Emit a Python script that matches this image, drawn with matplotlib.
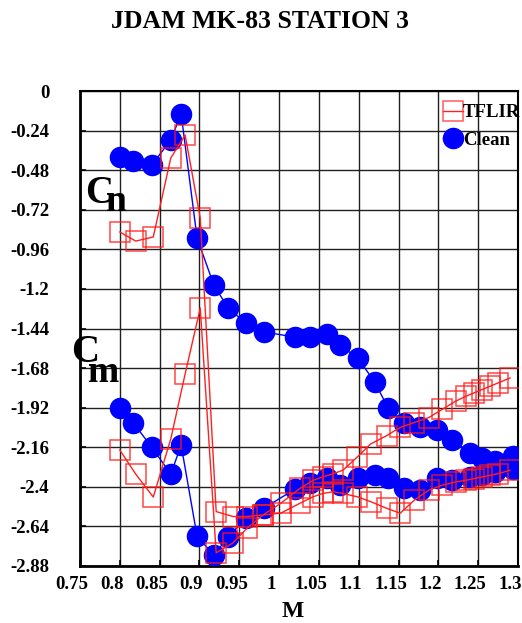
import matplotlib
matplotlib.use("Agg")
import matplotlib.pyplot as plt
from matplotlib.lines import Line2D
import matplotlib.transforms as mtransforms

plt.rcParams['font.family'] = ['Liberation Serif', 'DejaVu Serif']
plt.rcParams['font.weight'] = 'bold'

# ---- data ----
clean_mach = [0.800, 0.817, 0.840, 0.864, 0.877, 0.897, 0.918, 0.936, 0.958, 0.981,
              1.020, 1.039, 1.060, 1.076, 1.099, 1.120, 1.137, 1.157, 1.177, 1.198,
              1.217, 1.240, 1.255, 1.271, 1.294]
clean_cn = [-0.400, -0.424, -0.449, -0.297, -0.139, -0.891, -1.176, -1.316, -1.407, -1.461,
            -1.492, -1.492, -1.474, -1.540, -1.619, -1.765, -1.922, -2.013, -2.038, -2.056,
            -2.116, -2.195, -2.226, -2.244, -2.213]
clean_cm = [-1.922, -2.013, -2.159, -2.323, -2.147, -2.699, -2.814, -2.705, -2.589, -2.529,
            -2.414, -2.377, -2.347, -2.389, -2.347, -2.329, -2.347, -2.407, -2.420, -2.347,
            -2.360, -2.340, -2.330, -2.310, -2.290]

tflir_mach = [0.800, 0.820, 0.842, 0.864, 0.882, 0.901, 0.921, 0.942, 0.960, 0.980,
              1.002, 1.026, 1.043, 1.055, 1.068, 1.080, 1.098, 1.115, 1.135, 1.152,
              1.170, 1.188, 1.205, 1.222, 1.235, 1.245, 1.255, 1.265, 1.275, 1.290]
tflir_cn = [-0.855, -0.910, -0.885, -0.406, -0.267, -0.770, -2.55, -2.58, -2.58, -2.57,
            -2.56, -2.50, -2.46, -2.44, -2.43, -2.44, -2.46, -2.49, -2.53, -2.56,
            -2.48, -2.42, -2.39, -2.37, -2.36, -2.35, -2.34, -2.33, -2.32, -2.30]
tflir_cm = [-2.177, -2.323, -2.462, -2.110, -1.716, -1.316, -2.80, -2.74, -2.65, -2.57,
            -2.50, -2.41, -2.36, -2.34, -2.32, -2.30, -2.22, -2.14, -2.09, -2.04,
            -2.01, -1.98, -1.93, -1.88, -1.85, -1.83, -1.81, -1.79, -1.77, -1.74]

x_ticks = [0.75, 0.8, 0.85, 0.9, 0.95, 1.0, 1.05, 1.1, 1.15, 1.2, 1.25, 1.3]
x_labels = ['0.75', '0.8', '0.85', '0.9', '0.95', '1', '1.05', '1.1', '1.15', '1.2', '1.25', '1.3']
y_ticks = [0, -0.24, -0.48, -0.72, -0.96, -1.2, -1.44, -1.68, -1.92, -2.16, -2.4, -2.64, -2.88]
y_labels = ['0', '-0.24', '-0.48', '-0.72', '-0.96', '-1.2', '-1.44', '-1.68', '-1.92',
            '-2.16', '-2.4', '-2.64', '-2.88']

W, H = 522, 623
fig = plt.figure(figsize=(W / 100, H / 100), dpi=100)
ax = fig.add_axes([80 / W, 1 - 566 / H, 438 / W, 475 / H])

blue = '#0000ff'
red = '#ff2020'

for ys in (clean_cn, clean_cm):
    ax.plot(clean_mach, ys, color=blue, lw=1.0, marker='o', ms=14.5,
            markerfacecolor=blue, markeredgecolor=blue, zorder=3)
for ys in (tflir_cn, tflir_cm):
    ax.plot(tflir_mach, ys, color=red, lw=1.0, marker='s', ms=14.5,
            markerfacecolor='none', markeredgecolor=(1, 0.1, 0.1, 0.8),
            markeredgewidth=1.1, zorder=4)

ax.set_xlim(0.75, 1.3)
ax.set_ylim(-2.88, 0)
ax.set_xticks(x_ticks)
ax.set_xticklabels(x_labels)
ax.set_yticks(y_ticks)
ax.set_yticklabels(y_labels)
ax.grid(True, color='#202020', lw=1.0, zorder=0)
ax.tick_params(axis='both', direction='in', length=4, width=1.2, labelsize=13.5)
ax.tick_params(axis='y', pad=22)
ax.tick_params(axis='x', pad=7)
for lab in ax.get_xticklabels():
    lab.set_transform(lab.get_transform() +
                      mtransforms.ScaledTranslation(-8 / 100, 0, fig.dpi_scale_trans))
for s in ['left', 'bottom']:
    ax.spines[s].set_linewidth(2.0)
for s in ['top', 'right']:
    ax.spines[s].set_linewidth(1.5)

handles = [Line2D([], [], color=red, lw=1.0, marker='s', ms=14.5, markerfacecolor='none',
                  markeredgecolor=(1, 0.2, 0.2, 0.8), markeredgewidth=1.1),
           Line2D([], [], color=blue, lw=1.0, marker='o', ms=14.5,
                  markerfacecolor=blue, markeredgecolor=blue)]
ax.legend(handles, ['TFLIR', 'Clean'], loc='upper left',
          bbox_to_anchor=((443 - 80) / 438, (566 - 104) / 475),
          frameon=False, handlelength=1.05, handletextpad=0.0, borderpad=0,
          borderaxespad=0, labelspacing=0.55, prop={'size': 13.5, 'weight': 'bold'})

def px(x, y):
    return x / W, 1 - y / H

fig.text(*px(260, 28), 'JDAM MK-83 STATION 3', ha='center', va='baseline',
         fontsize=18.5, fontweight='bold')
fig.text(*px(293, 617), 'M', ha='center', va='baseline', fontsize=17, fontweight='bold')
fig.text(*px(85, 203), 'C', ha='left', va='baseline', fontsize=28, fontweight='bold')
fig.text(*px(106, 211), 'n', ha='left', va='baseline', fontsize=27, fontweight='bold')
fig.text(*px(71, 362), 'C', ha='left', va='baseline', fontsize=28, fontweight='bold')
fig.text(*px(88, 382), 'm', ha='left', va='baseline', fontsize=27, fontweight='bold')

fig.savefig('out.png', dpi=100)
